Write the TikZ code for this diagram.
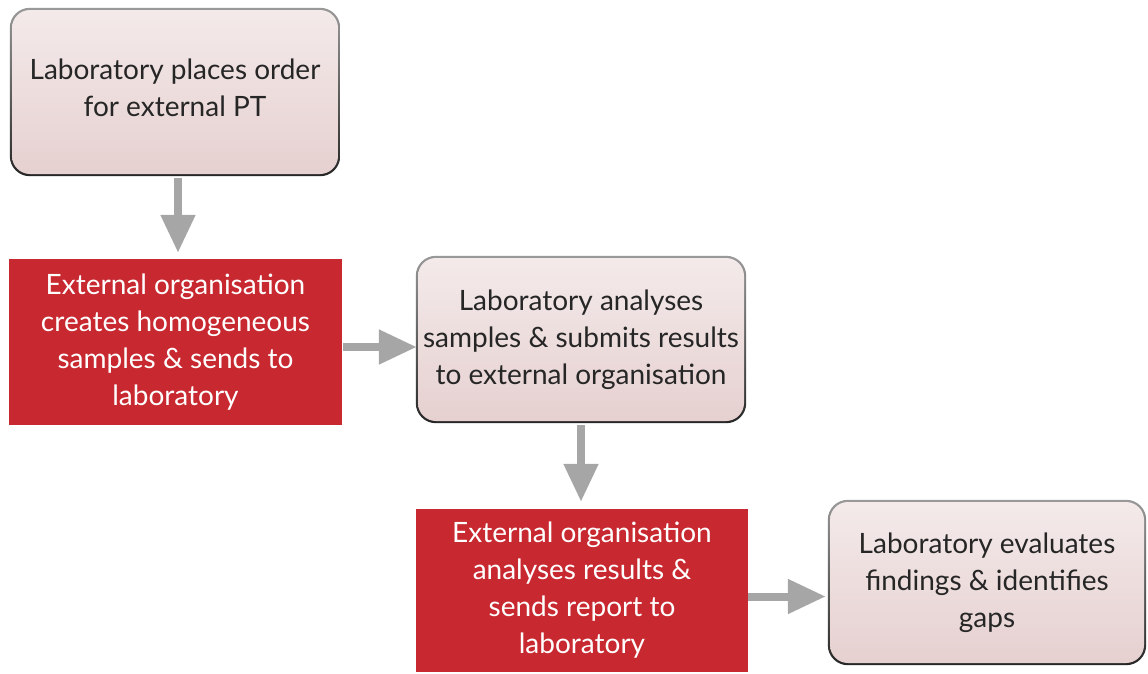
\documentclass[tikz,border=0pt]{standalone}
\usepackage{fontspec}
\setmainfont{Lato}
\usetikzlibrary{arrows.meta,backgrounds}
\definecolor{redbox}{RGB}{200,40,47}
\definecolor{pinktop}{RGB}{244,234,234}
\definecolor{pinkbot}{RGB}{230,208,208}
\definecolor{arrgray}{RGB}{166,166,166}
\tikzset{
  txt/.style={font=\fontsize{28}{37}\selectfont, align=center, inner sep=0pt},
  labbox/.style={txt, rounded corners=18pt, top color=pinktop, bottom color=pinkbot, draw=none, text=black!85},
  extbox/.style={txt, fill=redbox, text=white},
  arr/.style={draw=arrgray, line width=8pt, -{Triangle[width=33pt,length=38pt]}},
}
\newcommand{\frameit}[1]{%
  \shade[rounded corners=20pt, top color=black!40, bottom color=black!85]
    ([shift={(-2pt,-2pt)}]#1.south west) rectangle ([shift={(2pt,2pt)}]#1.north east);}
\begin{document}
\begin{tikzpicture}[x=1pt,y=-1pt]
\useasboundingbox (0,0) rectangle (1148,673);
\node[labbox, minimum width=326pt, minimum height=164pt, text depth=8pt] (b1) at (175,92)
  {Laboratory places order\\for external PT};
\node[extbox, minimum width=333pt, minimum height=166pt] (b2) at (175.5,342)
  {External organisation\\creates homogeneous\\samples \& sends to\\laboratory};
\node[labbox, minimum width=326pt, minimum height=163pt] (b3) at (581,339.5)
  {Laboratory analyses\\samples \& submits results\\to external organisation};
\node[extbox, minimum width=332pt, minimum height=163pt] (b4) at (582,590.5)
  {External organisation\\analyses results \&\\sends report to\\laboratory};
\node[labbox, minimum width=314pt, minimum height=161pt] (b5) at (987,582.5)
  {Laboratory evaluates\\findings \& identifies\\gaps};
\begin{scope}[on background layer]
  \frameit{b1}\frameit{b3}\frameit{b5}
\end{scope}
\draw[arr, shorten <=4pt, shorten >=6pt] ([xshift=3pt]b1.south) -- ([xshift=3pt]b1.south |- b2.north);
\draw[arr, shorten <=1pt, shorten >=1pt] ([yshift=-5pt]b2.east) -- ([yshift=-5pt]b2.east -| b3.west);
\draw[arr, shorten <=4pt, shorten >=7pt] (b3.south) -- (b3.south |- b4.north);
\draw[arr, shorten <=0pt, shorten >=4pt] ([yshift=-6pt]b4.east) -- ([yshift=-6pt]b4.east -| b5.west);
\end{tikzpicture}
\end{document}
